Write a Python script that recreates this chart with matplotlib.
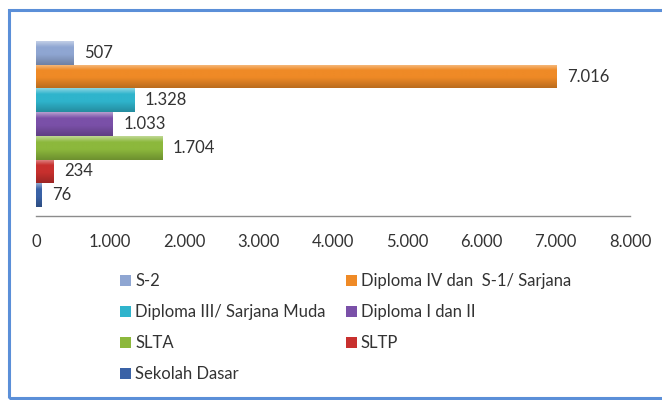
import numpy as np
import matplotlib
matplotlib.use("Agg")
import matplotlib.pyplot as plt
from matplotlib.patches import Rectangle, Patch
from matplotlib.colors import to_rgb

plt.rcParams['font.family'] = ['Lato', 'DejaVu Sans']

categories = ["S-2", "Diploma IV dan  S-1/ Sarjana", "Diploma III/ Sarjana Muda",
              "Diploma I dan II", "SLTA", "SLTP", "Sekolah Dasar"]
values = [507, 7016, 1328, 1033, 1704, 234, 76]
colors = ["#8fa6d2", "#ef8a26", "#2fb4cc", "#7a50a8", "#8cb83c", "#c8302e", "#3a62a6"]
xticks = [0, 1000, 2000, 3000, 4000, 5000, 6000, 7000, 8000]


def fmt(v):
    return f"{v:,}".replace(",", ".")


fig = plt.figure(figsize=(6.62, 4.0), dpi=100)
ax = fig.add_axes([36/662, 1 - 216/400, 594/662, 184/400])

pos = np.arange(len(values))
bars = ax.barh(pos, values, height=1.0, color=colors, edgecolor="none", zorder=2)

# soft shading on each bar: light edge on top, a bit darker at the bottom
t = np.linspace(0, 1, 60)[:, None]
for b, c in zip(bars, colors):
    base = np.array(to_rgb(c))
    img = np.zeros((60, 1, 3))
    for j in range(3):
        ch = base[j]
        up = ch + (1 - ch) * 0.45 * np.clip((0.25 - t) / 0.25, 0, 1)
        down = ch * (1 - 0.22 * np.clip((t - 0.55) / 0.45, 0, 1))
        img[:, :, j] = np.where(t < 0.25, up, down)
    x0, y0 = b.get_x(), b.get_y()
    im = ax.imshow(img, extent=(x0, x0 + b.get_width(), y0 + b.get_height(), y0),
                   origin="upper", aspect="auto", zorder=3, interpolation="bilinear")
    im.set_clip_path(b)

for p, v in zip(pos, values):
    ax.text(v + 140, p, fmt(v), va="center", ha="left", fontsize=12, color="#333333", zorder=4)

ax.set_xlim(0, 8000)
ax.set_ylim(6.88, -0.88)
ax.set_xticks(xticks)
ax.set_xticklabels([fmt(t) for t in xticks], fontsize=12, color="#333333")
ax.set_yticks([])
ax.tick_params(axis="x", length=0, pad=13)
for s in ["top", "right", "left"]:
    ax.spines[s].set_visible(False)
ax.spines["bottom"].set_color("#8c8c8c")
ax.spines["bottom"].set_linewidth(1.0)

order = [0, 2, 4, 6, 1, 3, 5]
handles = [Patch(facecolor=colors[i], edgecolor="none") for i in order]
labels = [categories[i] for i in order]
fig.legend(handles, labels, ncol=2, loc="upper left", bbox_to_anchor=(112/662, 1 - 265/400),
           frameon=False, fontsize=12, handlelength=0.65, handleheight=0.65,
           handletextpad=0.25, columnspacing=1.2, labelspacing=0.9, borderpad=0,
           labelcolor="#333333")

fig.patches.append(Rectangle((9/662, 2/400), 1.0, 388/400, transform=fig.transFigure,
                             fill=False, edgecolor="#5b8fd8", linewidth=2.2))

fig.savefig("out.png", dpi=100)
